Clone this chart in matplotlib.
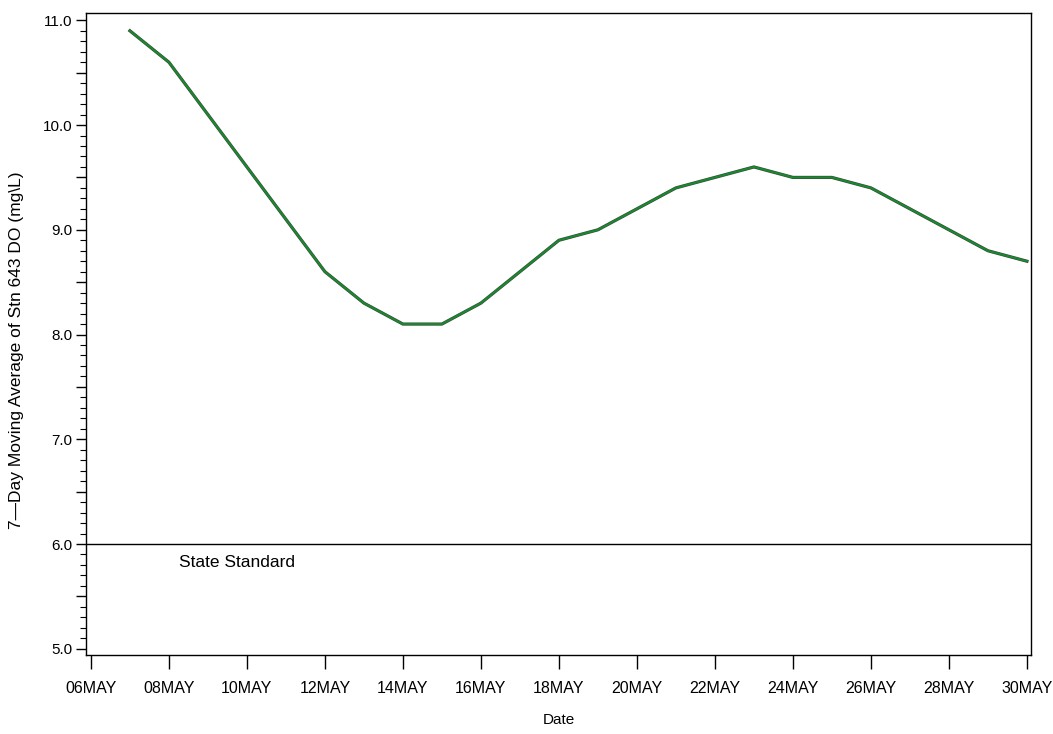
import pandas as pd
import matplotlib
matplotlib.use("Agg")
import matplotlib.pyplot as plt
import matplotlib.dates as mdates
from matplotlib.ticker import MultipleLocator, FuncFormatter

# 7-day moving average of DO at station 643
dates = pd.date_range("2008-05-07", "2008-05-30", freq="D")
do_avg = [10.9, 10.6, 10.1, 9.6, 9.1, 8.6, 8.3, 8.1, 8.1, 8.3, 8.6, 8.9,
          9.0, 9.2, 9.4, 9.5, 9.6, 9.5, 9.5, 9.4, 9.2, 9.0, 8.8, 8.7]
standard = 6.0
standard_label = "State Standard"

plt.rcParams['font.family'] = ['Liberation Sans', 'DejaVu Sans']

fig = plt.figure(figsize=(10.53, 7.34), dpi=100)
ax = fig.add_axes([0.0817, 0.1076, 0.8974, 0.8747])

ax.plot(dates, do_avg, color='#444444', linewidth=2.3, solid_joinstyle='round')
ax.plot(dates, do_avg, color='#168a2c', linewidth=1.5, solid_joinstyle='round')
ax.axhline(standard, color='black', linewidth=1.0)
ax.text(pd.Timestamp("2008-05-08 06:00"), standard - 0.18, standard_label,
        fontsize=12.5, va='center', ha='left')

x0 = pd.Timestamp("2008-05-06")
ax.set_xlim(x0 - pd.Timedelta(hours=3), pd.Timestamp("2008-05-30") + pd.Timedelta(hours=2.5))
ax.set_ylim(4.94, 11.07)

ax.xaxis.set_major_locator(mdates.DayLocator(bymonthday=range(6, 31, 2)))
ax.xaxis.set_major_formatter(FuncFormatter(lambda v, p: mdates.num2date(v).strftime('%d%b').upper()))
ax.yaxis.set_major_locator(MultipleLocator(0.5))
ax.yaxis.set_minor_locator(MultipleLocator(0.1))
ax.yaxis.set_major_formatter(FuncFormatter(lambda v, p: '%.1f' % v if abs(v - round(v)) < 1e-6 else ''))

ax.tick_params(axis='x', length=10, width=1, direction='out', labelsize=11.5, pad=9)
ax.tick_params(axis='y', which='major', length=7, width=1, direction='out', labelsize=11, pad=3)
ax.tick_params(axis='y', which='minor', length=4, width=0.8, direction='out')

for s in ax.spines.values():
    s.set_linewidth(1.0)

ax.set_xlabel("Date", fontsize=11, labelpad=12)
ax.set_ylabel("7\u2014Day Moving Average of Stn 643 DO (mg\\L)", fontsize=12.5)
ax.yaxis.set_label_coords(-0.066, 0.474)

fig.savefig("out.png", dpi=100)
